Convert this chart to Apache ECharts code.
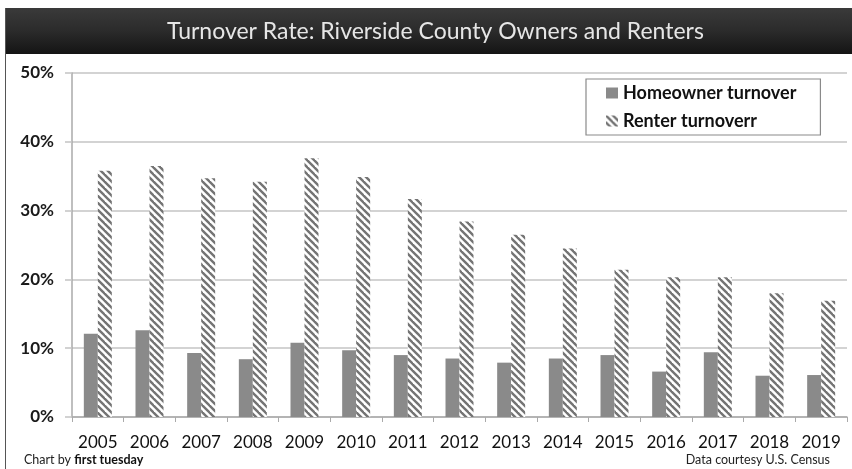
<!DOCTYPE html>
<html>
<head>
<meta charset="utf-8">
<script src="https://cdn.jsdelivr.net/npm/echarts@6/dist/echarts.min.js"></script>
<style>
  html, body { margin: 0; padding: 0; background: #fff; }
  #chart { width: 852px; height: 469px; }
</style>
</head>
<body>
<div id="chart"></div>
<script>
// Turnover rates (%) by year
const years = ['2005', '2006', '2007', '2008', '2009', '2010', '2011', '2012', '2013', '2014', '2015', '2016', '2017', '2018', '2019'];
const homeownerTurnover = [12.1, 12.6, 9.3, 8.4, 10.8, 9.7, 9.0, 8.5, 7.9, 8.5, 9.0, 6.6, 9.4, 6.0, 6.1];
const renterTurnover = [35.8, 36.5, 34.7, 34.2, 37.6, 34.9, 31.7, 28.4, 26.5, 24.5, 21.4, 20.3, 20.3, 18.0, 16.9];
const yTicks = [0, 10, 20, 30, 40, 50];

const FONT = 'Lato, "Open Sans", sans-serif';

// Diagonal hatch tile for the renter bars
function hatchTile() {
  const s = 7;
  const c = document.createElement('canvas');
  c.width = s; c.height = s;
  const g = c.getContext('2d');
  g.fillStyle = '#ffffff';
  g.fillRect(0, 0, s, s);
  g.strokeStyle = '#747474';
  g.lineWidth = 2.4;
  for (const off of [-s, 0, s]) {
    g.beginPath();
    g.moveTo(-1 + off, -1);
    g.lineTo(s + 1 + off, s + 1);
    g.stroke();
  }
  return c;
}
const hatch = { image: hatchTile(), repeat: 'repeat' };

const chart = echarts.init(document.getElementById('chart'), null, { renderer: 'canvas' });

chart.setOption({
  animation: false,
  backgroundColor: '#ffffff',
  title: {
    text: 'Turnover Rate: Riverside County Owners and Renters',
    left: 167,
    top: 20,
    padding: 0,
    textStyle: { color: '#e6e6e6', fontFamily: FONT, fontSize: 23, fontWeight: 'normal' }
  },
  graphic: [
    {
      type: 'rect', z: -1,
      shape: { x: 5, y: 8, width: 847, height: 46 },
      style: {
        fill: new echarts.graphic.LinearGradient(0, 0, 0, 1, [
          { offset: 0, color: '#3a3a3a' },
          { offset: 0.5, color: '#2b2b2b' },
          { offset: 1, color: '#141414' }
        ])
      }
    },
    {
      type: 'line', z: -1,
      shape: { x1: 5.5, y1: 8, x2: 5.5, y2: 469 },
      style: { stroke: '#555', lineWidth: 1 }
    },
    {
      type: 'text',
      left: 24, top: 453,
      style: {
        text: 'Chart by {b|first tuesday}',
        fontFamily: FONT, fontSize: 12.5, fill: '#222',
        rich: { b: { fontFamily: FONT, fontSize: 12.5, fontWeight: 'bold', fill: '#111' } }
      }
    },
    {
      type: 'text',
      right: 22, top: 453,
      style: { text: 'Data courtesy U.S. Census', fontFamily: FONT, fontSize: 12.5, fill: '#222' }
    }
  ],
  legend: {
    orient: 'vertical',
    left: 586, top: 79,
    padding: [4, 24, 4, 20],
    itemWidth: 12, itemHeight: 11, itemGap: 8,
    borderColor: '#8a8a8a', borderWidth: 1.2,
    textStyle: { fontFamily: FONT, fontSize: 18, fontWeight: 'bold', color: '#111', lineHeight: 20 },
    data: [
      { name: 'Homeowner turnover', icon: 'rect' },
      { name: 'Renter turnoverr', icon: 'rect' }
    ]
  },
  grid: { left: 72, right: 5, top: 73, bottom: 52, containLabel: false },
  xAxis: {
    type: 'category',
    data: years,
    boundaryGap: true,
    axisLine: { lineStyle: { color: '#aaaaaa', width: 1.5 } },
    axisTick: { show: true, length: 5, lineStyle: { color: '#aaaaaa' } },
    axisLabel: { interval: 0, hideOverlap: false, fontFamily: FONT, fontSize: 17, color: '#111', margin: 17 }
  },
  yAxis: {
    type: 'value',
    min: yTicks[0], max: yTicks[yTicks.length - 1], interval: 10,
    axisLine: { show: true, lineStyle: { color: '#aaaaaa', width: 1.5 } },
    axisTick: { show: true, length: 7, lineStyle: { color: '#c4c4c4', width: 1.5 } },
    splitLine: { lineStyle: { color: '#c4c4c4', width: 1.5 } },
    axisLabel: { fontFamily: FONT, fontSize: 17, color: '#1a1a1a', fontWeight: 'bold', margin: 18, formatter: '{value}%' }
  },
  series: [
    {
      name: 'Homeowner turnover',
      type: 'bar',
      data: homeownerTurnover,
      barWidth: 14,
      barGap: '0%',
      itemStyle: { color: '#8a8a8a' }
    },
    {
      name: 'Renter turnoverr',
      type: 'bar',
      data: renterTurnover,
      barWidth: 14,
      barGap: '0%',
      itemStyle: { color: hatch }
    }
  ]
});
</script>
</body>
</html>
